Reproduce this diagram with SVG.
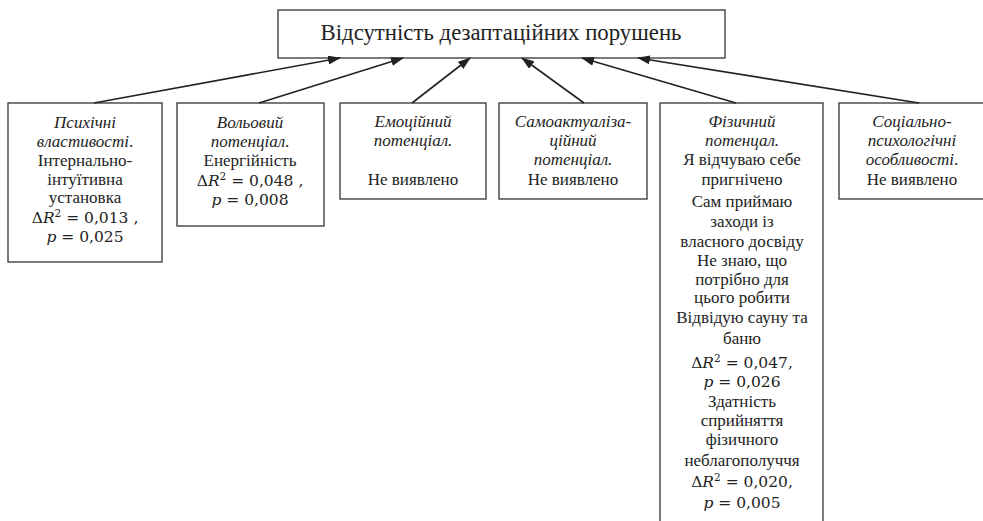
<svg xmlns="http://www.w3.org/2000/svg" width="983" height="521" viewBox="0 0 983 521">
<style>
.box{fill:#fff;stroke:#333;stroke-width:1.3}
text{font-family:"Liberation Serif","Times New Roman",serif;font-size:17px;fill:#222;text-anchor:middle}
.t{font-size:22.8px}
.i{font-style:italic}
.m{font-family:"DejaVu Serif","Liberation Serif",serif;font-size:15.5px}
.sup{font-size:10.5px}
.con{stroke:#222;stroke-width:1.6;fill:none;marker-end:url(#ah)}
</style>
<defs>
<marker id="ah" markerUnits="userSpaceOnUse" markerWidth="13" markerHeight="9" refX="12" refY="4.5" orient="auto">
<path d="M0,0 L13,4.5 L0,9 Z" fill="#222"/>
</marker>
</defs>
<rect width="983" height="521" fill="#fff"/>
<g id="top">
<rect class="box" x="278" y="10" width="447" height="48"/>
<text class="t" x="501" y="40">Відсутність дезаптаційних порушень</text>
</g>
<g id="n1">
<rect class="box" x="8" y="103" width="154" height="159"/>
<text x="85" y="128" class="i">Психічні</text>
<text x="85" y="147"><tspan class="i">властивості</tspan>.</text>
<text x="85" y="166">Інтернально-</text>
<text x="85" y="185">інтуїтивна</text>
<text x="85" y="203">установка</text>
<text class="m" x="85" y="223">Δ<tspan class="i">R</tspan><tspan class="sup" dy="-6">2</tspan><tspan dy="6"> = 0,013 ,</tspan></text>
<text class="m" x="85" y="242"><tspan class="i">p</tspan> = 0,025</text>
</g>
<g id="n2">
<rect class="box" x="177" y="103" width="147" height="123"/>
<text x="250" y="128" class="i">Вольовий</text>
<text x="250" y="147"><tspan class="i">потенціал</tspan>.</text>
<text x="250" y="166">Енергійність</text>
<text class="m" x="250" y="186">Δ<tspan class="i">R</tspan><tspan class="sup" dy="-6">2</tspan><tspan dy="6"> = 0,048 ,</tspan></text>
<text class="m" x="250" y="205"><tspan class="i">p</tspan> = 0,008</text>
</g>
<g id="n3">
<rect class="box" x="340" y="103" width="146" height="96"/>
<text x="413" y="127" class="i">Емоційний</text>
<text x="413" y="146" class="i">потенціал.</text>
<text x="413" y="185">Не виявлено</text>
</g>
<g id="n4">
<rect class="box" x="499" y="103" width="148" height="96"/>
<text x="573" y="127" class="i">Самоактуаліза-</text>
<text x="573" y="146" class="i">ційний</text>
<text x="573" y="165" class="i">потенціал.</text>
<text x="573" y="185">Не виявлено</text>
</g>
<g id="n5">
<rect class="box" x="660" y="103" width="163" height="430"/>
<text x="742" y="127" class="i">Фізичний</text>
<text x="742" y="146" class="i">потенцал.</text>
<text x="742" y="165">Я відчуваю себе</text>
<text x="742" y="185">пригнічено</text>
<text x="742" y="207">Сам приймаю</text>
<text x="742" y="227">заходи із</text>
<text x="742" y="247">власного досвіду</text>
<text x="742" y="266">Не знаю, що</text>
<text x="742" y="285">потрібно для</text>
<text x="742" y="303">цього робити</text>
<text x="742" y="323">Відвідую сауну та</text>
<text x="742" y="344">баню</text>
<text class="m" x="742" y="368">Δ<tspan class="i">R</tspan><tspan class="sup" dy="-6">2</tspan><tspan dy="6"> = 0,047,</tspan></text>
<text class="m" x="742" y="387"><tspan class="i">p</tspan> = 0,026</text>
<text x="742" y="407">Здатність</text>
<text x="742" y="426">сприйняття</text>
<text x="742" y="445">фізичного</text>
<text x="742" y="466">неблагополуччя</text>
<text class="m" x="742" y="487">Δ<tspan class="i">R</tspan><tspan class="sup" dy="-6">2</tspan><tspan dy="6"> = 0,020,</tspan></text>
<text class="m" x="742" y="508"><tspan class="i">p</tspan> = 0,005</text>
</g>
<g id="n6">
<rect class="box" x="839" y="103" width="150" height="96"/>
<text x="912" y="127" class="i">Соціально-</text>
<text x="912" y="146" class="i">психологічні</text>
<text x="912" y="165"><tspan class="i">особливості</tspan>.</text>
<text x="912" y="185">Не виявлено</text>
</g>
<g id="connectors">
<line class="con" x1="94" y1="103" x2="340" y2="58"/>
<line class="con" x1="259" y1="103" x2="403" y2="58"/>
<line class="con" x1="412" y1="103" x2="470" y2="58"/>
<line class="con" x1="584" y1="103" x2="522" y2="58"/>
<line class="con" x1="736" y1="103" x2="582" y2="58"/>
<line class="con" x1="919" y1="103" x2="638" y2="58"/>
</g>
</svg>
